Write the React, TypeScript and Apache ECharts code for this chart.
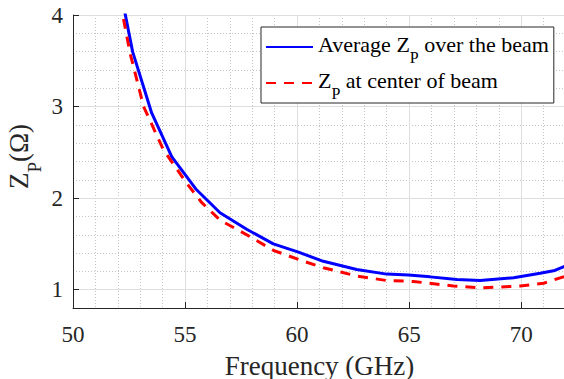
import React, { useEffect, useRef } from 'react';
import * as echarts from 'echarts';

// ---- data ----
const avgFreq = [52.2, 52.66, 53.51, 54.41, 55.48, 56.56, 57.75, 58.94, 60.06, 61.17, 62.66, 64.0, 64.97, 65.94, 67.13, 68.17, 69.66, 70.85, 71.5, 72.0];
const avgZp = [4.17, 3.6, 2.93, 2.45, 2.10, 1.84, 1.66, 1.50, 1.41, 1.31, 1.22, 1.17, 1.16, 1.14, 1.11, 1.10, 1.13, 1.18, 1.21, 1.26];
const ctrFreq = [52.1, 52.55, 53.15, 54.03, 55.08, 55.75, 56.56, 57.75, 58.94, 60.06, 61.17, 62.66, 64.0, 65.19, 66.98, 68.17, 69.96, 71.0, 72.0];
const ctrZp = [4.15, 3.58, 3.0, 2.53, 2.16, 1.95, 1.76, 1.60, 1.43, 1.33, 1.24, 1.15, 1.10, 1.09, 1.04, 1.02, 1.04, 1.07, 1.15];
const xTicks = [50, 55, 60, 65, 70];
const yTicks = [1, 2, 3, 4];
const seriesNames = ['Average ZP over the beam', 'ZP at center of beam'];

const FONT = 'Liberation Serif';
const AXIS = '#262626';
const MAJOR = '#dedede';
const MINOR = '#c4c4c4';

const zip = (a: number[], b: number[]) => a.map((v, i) => [v, b[i]]);

export default function App() {
  const ref = useRef<HTMLDivElement>(null);
  useEffect(() => {
    const chart = echarts.init(ref.current!, undefined, { renderer: 'svg' });
    const gridAxisBase = {
      type: 'value' as const,
      axisLine: { show: false },
      axisTick: { show: false },
      axisLabel: { show: false },
    };
    chart.setOption({
      animation: false,
      backgroundColor: '#fff',
      textStyle: { fontFamily: FONT },
      grid: { left: 73, top: 15, width: 493, height: 293, outerBoundsMode: 'none', containLabel: false },
      xAxis: [
        {
          type: 'value', min: 50, max: 72, interval: 1, position: 'bottom', z: 3,
          axisLine: { show: true, lineStyle: { color: AXIS, width: 1 } },
          axisTick: { show: true, inside: true, length: 6, customValues: xTicks, lineStyle: { color: AXIS } },
          axisLabel: { customValues: xTicks, color: AXIS, fontFamily: FONT, fontSize: 23, margin: 15 },
          splitLine: { show: true, lineStyle: { type: 'solid', width: 1, color: MAJOR } },
          name: 'Frequency (GHz)', nameLocation: 'middle', nameGap: 44, nameMoveOverlap: false,
          nameTextStyle: { fontFamily: FONT, fontSize: 27, color: AXIS, lineHeight: 27 },
        },
        {
          ...gridAxisBase, min: 50, max: 72, interval: 1, position: 'bottom',
          splitLine: { show: true, lineStyle: { type: [1, 2], width: 1, color: ['transparent', MINOR, MINOR, MINOR, MINOR] } },
        },
      ],
      yAxis: [
        {
          type: 'value', min: 0.8, max: 4, interval: 0.2, position: 'left', z: 3,
          axisLine: { show: true, lineStyle: { color: AXIS, width: 1 } },
          axisTick: { show: true, inside: true, length: 6, customValues: yTicks, lineStyle: { color: AXIS } },
          axisLabel: { customValues: yTicks, color: AXIS, fontFamily: FONT, fontSize: 23, margin: 10 },
          splitLine: { show: true, lineStyle: { type: 'solid', width: 1, color: MAJOR } },
          name: '{n|Z}{s|P}{n|(Ω)}', nameLocation: 'middle', nameGap: 29, nameRotate: 90, nameMoveOverlap: false,
          nameTextStyle: {
            fontFamily: FONT, fontSize: 27, color: AXIS, padding: [0, 0, 0, 10],
            rich: {
              n: { fontFamily: FONT, fontSize: 27, color: AXIS, lineHeight: 40, height: 30, verticalAlign: 'top' },
              s: { fontFamily: FONT, fontSize: 19, color: AXIS, lineHeight: 40, height: 20, verticalAlign: 'bottom' },
            },
          },
        },
        {
          ...gridAxisBase, min: 0.8, max: 4, interval: 0.2, position: 'left',
          splitLine: { show: true, lineStyle: { type: [1, 2], width: 1, color: [MINOR, 'transparent', MINOR, MINOR, MINOR] } },
        },
      ],
      legend: {
        orient: 'vertical', left: 261, top: 27, padding: [2, 5, 2, 4], itemGap: 0,
        itemWidth: 47, itemHeight: 36, selectedMode: false,
        backgroundColor: '#fff', borderColor: AXIS, borderWidth: 1, borderRadius: 0,
        itemStyle: { opacity: 0 },
        data: seriesNames,
        formatter: (name: string) =>
          name === seriesNames[0]
            ? '{n|Average Z}{s|P}{n| over the beam}'
            : '{n|Z}{s|P}{n| at center of beam}',
        textStyle: {
          fontFamily: FONT, fontSize: 22, color: '#000',
          rich: {
            n: { fontFamily: FONT, fontSize: 22, color: '#000', lineHeight: 36, height: 30, verticalAlign: 'top' },
            s: { fontFamily: FONT, fontSize: 16, color: '#000', lineHeight: 36, height: 16, verticalAlign: 'bottom' },
          },
        },
      },
      series: [
        {
          name: seriesNames[0], type: 'line', xAxisIndex: 0, yAxisIndex: 0,
          data: zip(avgFreq, avgZp), symbol: 'none', showSymbol: false, clip: true,
          lineStyle: { color: '#0000ff', width: 3 }, itemStyle: { color: '#0000ff' }, z: 3,
        },
        {
          name: seriesNames[1], type: 'line', xAxisIndex: 0, yAxisIndex: 0,
          data: zip(ctrFreq, ctrZp), symbol: 'none', showSymbol: false, clip: true,
          lineStyle: { color: '#ff0000', width: 3, type: [10, 8] }, itemStyle: { color: '#ff0000' }, z: 4,
        },
      ],
    });
    return () => chart.dispose();
  }, []);
  return <div ref={ref} style={{ position: 'absolute', left: 0, top: 0, width: 564, height: 379, background: '#fff' }} />;
}
